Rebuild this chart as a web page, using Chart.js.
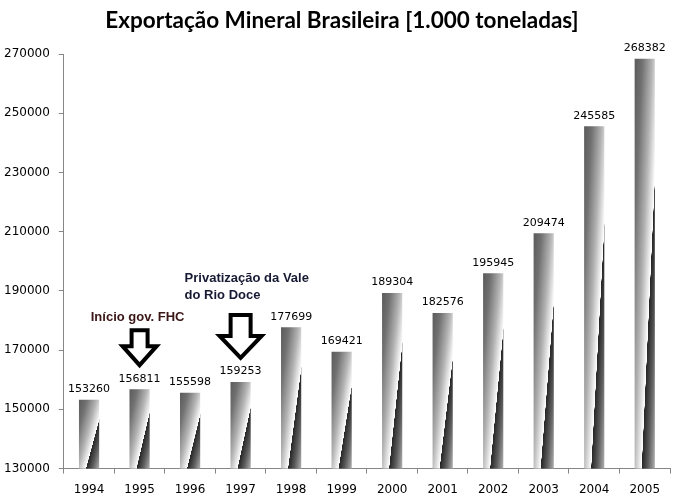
<!DOCTYPE html>
<html>
<head>
<meta charset="utf-8">
<script src="https://cdn.jsdelivr.net/npm/chart.js@4/dist/chart.umd.min.js"></script>
<style>
  html, body { margin: 0; padding: 0; background: #ffffff; }
  #wrap { width: 679px; height: 500px; }
</style>
</head>
<body>
<div id="wrap"><canvas id="c" width="679" height="500"></canvas></div>
<script>
const titleText = 'Exportação Mineral Brasileira [1.000 toneladas]';
const years = ['1994','1995','1996','1997','1998','1999','2000','2001','2002','2003','2004','2005'];
const exportsKt = [153260, 156811, 155598, 159253, 177699, 169421, 189304, 182576, 195945, 209474, 245585, 268382];
const yTicks = [130000, 150000, 170000, 190000, 210000, 230000, 250000, 270000];
const noteFHC = { year: '1995', lines: ['Início gov. FHC'] };
const noteVale = { year: '1997', lines: ['Privatização da Vale', 'do Rio Doce'] };

const AXIS = '#868686';

function barGradient(ctx) {
  const chart = ctx.chart;
  const xs = chart.scales.x, ys = chart.scales.y;
  if (!xs || !ys || ctx.dataIndex === undefined) return '#999';
  const v = ctx.raw;
  const cx = xs.getPixelForValue(ctx.dataIndex);
  const w = xs.width / years.length * 0.4;
  const x0 = cx - w / 2;
  const y0 = ys.getPixelForValue(v);
  const yb = ys.getPixelForValue(ys.min);
  const h = yb - y0;
  if (![cx, w, y0, yb, h].every(Number.isFinite) || w <= 0 || h <= 0) return '#999';
  const a = 0.52, b = 0.48;
  const gx = a / w, gy = b / h;
  const g2 = gx * gx + gy * gy;
  const c = chart.ctx;
  const grad = c.createLinearGradient(x0, y0, x0 + gx / g2, y0 + gy / g2);
  grad.addColorStop(0, '#5a5a5a');
  grad.addColorStop(0.2, '#717171');
  grad.addColorStop(0.45, '#b3b3b3');
  grad.addColorStop(0.66, '#ffffff');
  grad.addColorStop(0.665, '#262626');
  grad.addColorStop(0.82, '#5c5c5c');
  grad.addColorStop(1, '#b0b0b0');
  return grad;
}

const overlay = {
  id: 'overlay',
  afterDatasetsDraw(chart) {
    const c = chart.ctx;
    const meta = chart.getDatasetMeta(0);
    c.save();
    // title, centred as in the reference
    c.font = 'bold 22.5px Lato';
    c.fillStyle = '#000';
    c.textAlign = 'center';
    c.textBaseline = 'middle';
    c.fillText(titleText, 342, 21);

    c.font = '11px "DejaVu Sans"';
    c.textBaseline = 'bottom';
    meta.data.forEach((el, i) => {
      c.fillText(String(exportsKt[i]), el.x, el.y - 5);
    });

    function arrow(cx, tipY, topY, headW, shaftW, headH) {
      c.beginPath();
      c.moveTo(cx - shaftW / 2, topY);
      c.lineTo(cx + shaftW / 2, topY);
      c.lineTo(cx + shaftW / 2, tipY - headH);
      c.lineTo(cx + headW / 2, tipY - headH);
      c.lineTo(cx, tipY);
      c.lineTo(cx - headW / 2, tipY - headH);
      c.lineTo(cx - shaftW / 2, tipY - headH);
      c.closePath();
      c.fillStyle = '#fff';
      c.fill();
      c.lineWidth = 4;
      c.lineJoin = 'miter';
      c.strokeStyle = '#000';
      c.stroke();
    }

    const i1 = years.indexOf(noteFHC.year);
    const e1 = meta.data[i1];
    arrow(e1.x, e1.y - 24, e1.y - 59, 34, 16, 19);
    c.font = 'bold 13px "Liberation Sans"';
    c.fillStyle = '#3a1616';
    c.textAlign = 'center';
    c.textBaseline = 'middle';
    c.fillText(noteFHC.lines[0], e1.x - 2, e1.y - 72);

    const i2 = years.indexOf(noteVale.year);
    const e2 = meta.data[i2];
    arrow(e2.x, e2.y - 24, e2.y - 67, 42, 20, 22);
    c.fillStyle = '#161a33';
    c.textAlign = 'left';
    c.fillText(noteVale.lines[0], e2.x - 56, e2.y - 104);
    c.fillText(noteVale.lines[1], e2.x - 56, e2.y - 87);
    c.restore();
  }
};

new Chart(document.getElementById('c'), {
  type: 'bar',
  data: {
    labels: years,
    datasets: [{
      data: exportsKt,
      backgroundColor: barGradient,
      borderWidth: 0,
      barPercentage: 0.4,
      categoryPercentage: 1.0
    }]
  },
  options: {
    responsive: false,
    animation: false,
    devicePixelRatio: 1,
    layout: { padding: { left: -5, right: 9, top: 54, bottom: -6 } },
    plugins: {
      legend: { display: false },
      tooltip: { enabled: false },
      title: { display: false }
    },
    scales: {
      x: {
        offset: true,
        grid: { display: true, drawOnChartArea: false, drawTicks: true, tickLength: 5, color: AXIS, offset: true },
        border: { color: AXIS, width: 1 },
        ticks: { color: '#000', font: { family: 'DejaVu Sans', size: 12 }, padding: 9, maxRotation: 0 }
      },
      y: {
        min: 130000,
        max: 270000,
        afterBuildTicks(scale) { scale.ticks = yTicks.map(v => ({ value: v })); },
        grid: { display: true, drawOnChartArea: false, drawTicks: true, tickLength: 5, color: AXIS },
        border: { color: AXIS, width: 1 },
        ticks: { color: '#000', font: { family: 'DejaVu Sans', size: 12 }, padding: 9, callback: v => String(v) }
      }
    }
  },
  plugins: [overlay]
});
</script>
</body>
</html>
